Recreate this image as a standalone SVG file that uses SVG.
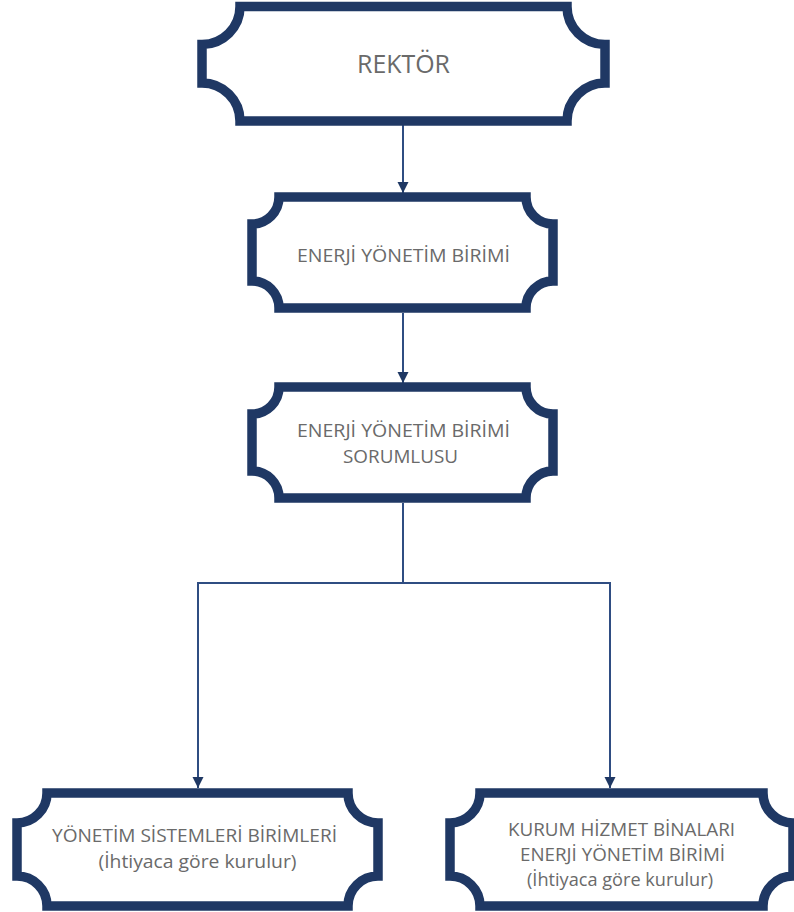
<svg xmlns="http://www.w3.org/2000/svg" width="794" height="912" viewBox="0 0 794 912">
  <style>
    .plaque { fill: #ffffff; stroke: #1f3864; stroke-width: 9.5; stroke-linejoin: miter; }
    .conn { fill: none; stroke: #2f4d82; stroke-width: 2; }
    .lbl { font-family: "Open Sans", "Noto Sans", "Liberation Sans", sans-serif; fill: #6a6a6a; font-size: 19px; text-anchor: middle; }
    .big { font-size: 25px; }
  </style>
  <defs>
    <marker id="arrow" markerUnits="userSpaceOnUse" markerWidth="12" markerHeight="12" viewBox="0 0 12 12" refX="11" refY="6" orient="auto">
      <path d="M0,0.5 L11,6 L0,11.5 Z" fill="#1f3864"/>
    </marker>
  </defs>
  <rect width="794" height="912" fill="#ffffff"/>

  <g id="connectors">
    <path class="conn" d="M403,125 V193" marker-end="url(#arrow)"/>
    <path class="conn" d="M403,313 V383" marker-end="url(#arrow)"/>
    <path class="conn" d="M403,503 V583 H198 V788" marker-end="url(#arrow)"/>
    <path class="conn" d="M403,583 H610 V788" marker-end="url(#arrow)"/>
  </g>

  <g id="rektor">
    <path class="plaque" d="M240,6.5 H567 A38,38 0 0 0 605,44.5 V83 A38,38 0 0 0 567,121 H240 A38,38 0 0 0 202,83 V44.5 A38,38 0 0 0 240,6.5 Z"/>
    <text class="lbl big" x="403.5" y="73" textLength="93" lengthAdjust="spacingAndGlyphs">REKTÖR</text>
  </g>

  <g id="eyb">
    <path class="plaque" d="M279,197 H526 A27,27 0 0 0 553,224 V281 A27,27 0 0 0 526,308 H279 A27,27 0 0 0 252,281 V224 A27,27 0 0 0 279,197 Z"/>
    <text class="lbl" x="403.5" y="262" textLength="213" lengthAdjust="spacingAndGlyphs">ENERJİ YÖNETİM BİRİMİ</text>
  </g>

  <g id="eyb-sorumlusu">
    <path class="plaque" d="M279,387 H526 A27,27 0 0 0 553,414 V471 A27,27 0 0 0 526,498 H279 A27,27 0 0 0 252,471 V414 A27,27 0 0 0 279,387 Z"/>
    <text class="lbl" x="403.5" y="437" textLength="213" lengthAdjust="spacingAndGlyphs">ENERJİ YÖNETİM BİRİMİ</text>
    <text class="lbl" x="400.5" y="463" textLength="115" lengthAdjust="spacingAndGlyphs">SORUMLUSU</text>
  </g>

  <g id="yonetim-sistemleri">
    <path class="plaque" d="M47,793 H348 A30,30 0 0 0 378,823 V876 A30,30 0 0 0 348,906 H47 A30,30 0 0 0 17,876 V823 A30,30 0 0 0 47,793 Z"/>
    <text class="lbl" x="194.5" y="842" textLength="285" lengthAdjust="spacingAndGlyphs">YÖNETİM SİSTEMLERİ BİRİMLERİ</text>
    <text class="lbl" x="197.5" y="868" textLength="198" lengthAdjust="spacingAndGlyphs">(İhtiyaca göre kurulur)</text>
  </g>

  <g id="kurum-hizmet">
    <path class="plaque" d="M480,793 H763 A30,30 0 0 0 793,823 V876 A30,30 0 0 0 763,906 H480 A30,30 0 0 0 450,876 V823 A30,30 0 0 0 480,793 Z"/>
    <text class="lbl" x="621.5" y="836" textLength="227" lengthAdjust="spacingAndGlyphs">KURUM HİZMET BİNALARI</text>
    <text class="lbl" x="622.5" y="861" textLength="205" lengthAdjust="spacingAndGlyphs">ENERJİ YÖNETİM BİRİMİ</text>
    <text class="lbl" x="620" y="886" textLength="186" lengthAdjust="spacingAndGlyphs">(İhtiyaca göre kurulur)</text>
  </g>
</svg>
